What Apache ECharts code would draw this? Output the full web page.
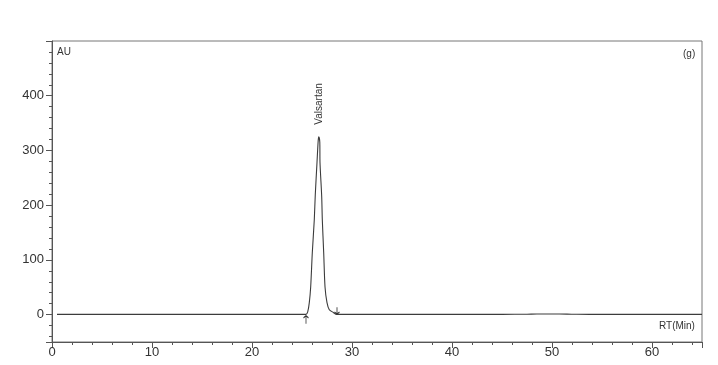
<!DOCTYPE html>
<html>
<head>
<meta charset="utf-8">
<script src="https://cdn.jsdelivr.net/npm/echarts@6/dist/echarts.min.js"></script>
<style>
html,body{margin:0;padding:0;background:#fff;}
#chart{width:718px;height:365px;}
</style>
</head>
<body>
<div id="chart"></div>
<script>
// Retention time (min)
const rtMinutes = [0.5, 5, 10, 15, 20, 24, 25, 25.4, 25.57, 25.73, 25.87, 26.03, 26.23, 26.33, 26.5, 26.62, 26.68, 26.78, 26.8, 26.97, 27.03, 27.17, 27.3, 27.5, 27.73, 28.13, 28.47, 30, 35, 40, 45, 47.5, 48.5, 50, 51.5, 52.5, 55, 60, 65];
// Absorbance (AU)
const auValues = [0.5, 0.5, 0.5, 0.5, 0.5, 0.5, 0.5, 0.5, 5, 22, 51, 113, 174, 220, 278, 318, 325, 315, 278, 216, 174, 113, 51, 22, 9, 4, 0.5, 0.5, 0.5, 0.5, 0.5, 0.8, 1.2, 1.2, 1.0, 0.6, 0.5, 0.5, 0.5];
const peakNames = ['Valsartan'];
const peakTimes = [26.68];
const peakHeights = [325];
const integrationStart = [25.4];
const integrationEnd = [28.5];
const xTickLabels = [0, 10, 20, 30, 40, 50, 60];
const yTickLabels = [0, 100, 200, 300, 400];

const chart = echarts.init(document.getElementById('chart'), null, {renderer: 'canvas'});
const FONT = 'Liberation Sans, Arial, sans-serif';
const axisCol = '#555';

const arrowPath = 'path://M5,0 L5,14 M1.5,4 L5,0 L8.5,4';
const titleStyle = {fontFamily: FONT, fontSize: 10, fontWeight: 'normal', color: '#333'};

const option = {
  backgroundColor: '#ffffff',
  animation: false,
  title: [
    {text: 'AU', left: 57, top: 47, padding: 0, textStyle: titleStyle},
    {text: '(g)', left: 683, top: 49, padding: 0, textStyle: titleStyle},
    {text: 'RT(Min)', left: 659, top: 321, padding: 0, textStyle: titleStyle}
  ],
  grid: {left: 52, top: 41, right: 16, bottom: 23, show: true, borderColor: '#777', borderWidth: 1, containLabel: false},
  xAxis: [
    {
      type: 'value', min: 0, max: 65, interval: 10, position: 'bottom',
      axisLine: {show: true, onZero: false, lineStyle: {color: axisCol, width: 1}},
      axisTick: {show: true, length: 6, lineStyle: {color: axisCol}},
      minorTick: {show: false},
      splitLine: {show: false},
      axisLabel: {
        margin: 4, fontFamily: FONT, fontSize: 13, color: '#333',
        formatter: v => xTickLabels.indexOf(v) >= 0 ? String(v) : ''
      }
    },
    {
      type: 'value', min: 0, max: 65, interval: 2, position: 'bottom',
      axisLine: {show: false, onZero: false},
      axisTick: {show: true, length: 3, lineStyle: {color: axisCol}},
      splitLine: {show: false},
      axisLabel: {show: false}
    }
  ],
  yAxis: [
    {
      type: 'value', min: -50, max: 500, splitNumber: 5,
      axisLine: {show: true, onZero: false, lineStyle: {color: axisCol, width: 1}},
      axisTick: {show: true, length: 6, lineStyle: {color: axisCol}},
      minorTick: {show: true, splitNumber: 5, length: 3, lineStyle: {color: axisCol}},
      splitLine: {show: false},
      minorSplitLine: {show: false},
      axisLabel: {
        margin: 8, fontFamily: FONT, fontSize: 13, color: '#333',
        formatter: v => yTickLabels.indexOf(v) >= 0 ? String(v) : ''
      }
    }
  ],
  series: [
    {
      type: 'line',
      xAxisIndex: 0, yAxisIndex: 0,
      data: rtMinutes.map((t, i) => [t, auValues[i]]),
      showSymbol: false,
      symbol: 'none',
      smooth: 0.25,
      lineStyle: {color: '#3c3c3c', width: 1.1},
      markPoint: {
        silent: true,
        data: [
          ...peakNames.map((n, i) => ({
            coord: [peakTimes[i], peakHeights[i]],
            symbol: 'circle', symbolSize: 0.1,
            itemStyle: {color: 'rgba(0,0,0,0)'},
            label: {
              show: true, formatter: n, position: 'top', distance: 11, rotate: 90,
              align: 'left', verticalAlign: 'middle', offset: [1, 0],
              fontFamily: FONT, fontSize: 10, color: '#333'
            }
          })),
          ...integrationStart.map(t => ({
            coord: [t, 0], symbol: arrowPath, symbolSize: [5, 8], symbolKeepAspect: false,
            symbolOffset: [0, 5],
            itemStyle: {color: 'rgba(0,0,0,0)', borderColor: '#333', borderWidth: 1},
            label: {show: false}
          })),
          ...integrationEnd.map(t => ({
            coord: [t, 0], symbol: arrowPath, symbolSize: [5, 7], symbolRotate: 180,
            symbolOffset: [0, -4],
            itemStyle: {color: 'rgba(0,0,0,0)', borderColor: '#333', borderWidth: 1},
            label: {show: false}
          }))
        ]
      }
    }
  ]
};
chart.setOption(option);
</script>
</body>
</html>
